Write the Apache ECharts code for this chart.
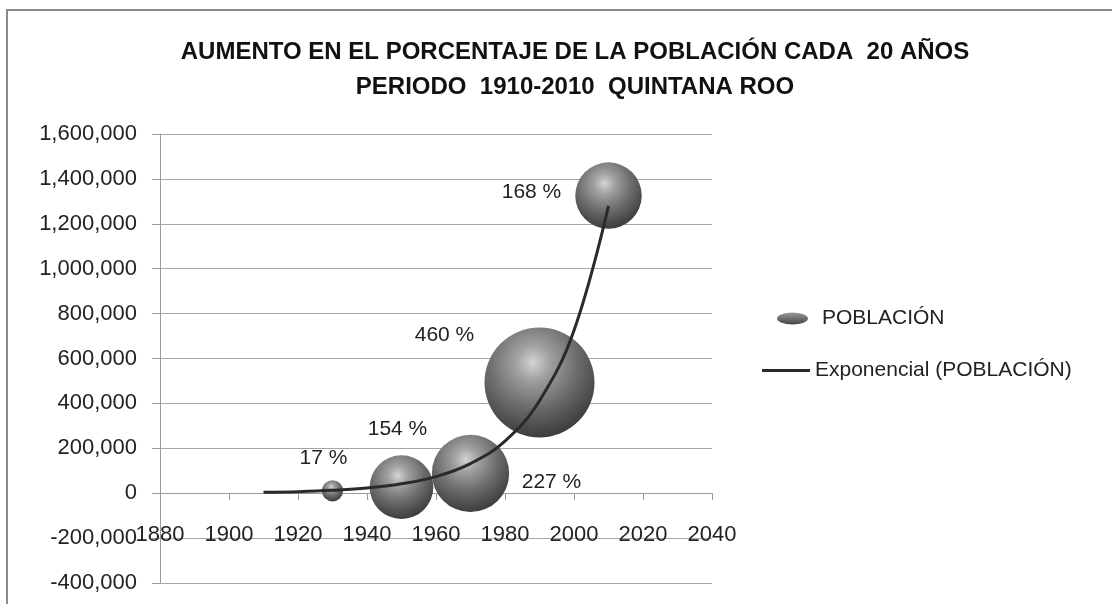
<!DOCTYPE html>
<html>
<head>
<meta charset="utf-8">
<script src="https://cdn.jsdelivr.net/npm/echarts@6/dist/echarts.min.js"></script>
<style>
  html, body { margin: 0; padding: 0; background: #ffffff; }
  #chart { width: 1112px; height: 604px; }
</style>
</head>
<body>
<div id="chart"></div>
<script>
// ---- Data ----
const years = [1930, 1950, 1970, 1990, 2010];
const population = [10620, 26967, 88150, 493277, 1325578];
const percentIncrease = [17, 154, 227, 460, 168];
const trendYears = [1910, 1920, 1930, 1940, 1950, 1960, 1970, 1980, 1990, 2000, 2010];
const trendValues = [4000, 7000, 13000, 23000, 42000, 74000, 132000, 232000, 412000, 725000, 1280000];
const titleLines = ['AUMENTO EN EL PORCENTAJE DE LA POBLACIÓN CADA  20 AÑOS', 'PERIODO  1910-2010  QUINTANA ROO'];
const seriesNames = ['POBLACIÓN', 'Exponencial (POBLACIÓN)'];

// ---- Presentation ----
const FONT = '"Liberation Sans", Arial, sans-serif';
const labelOffsets = [[-9, -33], [-4, -58], [81, 9], [-95, -47], [-77, -3]];
const maxPct = Math.max.apply(null, percentIncrease);

function sphere() {
  return new echarts.graphic.RadialGradient(0.44, 0.32, 0.72, [
    { offset: 0, color: '#d4d4d4' },
    { offset: 0.22, color: '#a0a0a0' },
    { offset: 0.55, color: '#6e6e6e' },
    { offset: 0.85, color: '#484848' },
    { offset: 1, color: '#383838' }
  ]);
}

const bubbleData = years.map((y, i) => ({
  value: [y, population[i], percentIncrease[i]],
  label: { offset: labelOffsets[i] }
}));
const trendData = trendYears.map((y, i) => [y, trendValues[i]]);

const chart = echarts.init(document.getElementById('chart'), null, { renderer: 'canvas' });
chart.setOption({
  animation: false,
  backgroundColor: '#ffffff',
  title: {
    text: titleLines.join('\n'),
    left: 575,
    top: 35,
    padding: 0,
    textAlign: 'center',
    textStyle: { fontFamily: FONT, fontSize: 24, fontWeight: 'bold', color: '#111', lineHeight: 35 }
  },
  graphic: [{
    type: 'rect',
    shape: { x: 7, y: 10, width: 1300, height: 800 },
    style: { fill: 'none', stroke: '#8a8a8a', lineWidth: 2 },
    silent: true
  }],
  legend: [{
    data: [{ name: seriesNames[0], icon: 'path://M0,6 A15.5,6 0 1,1 31,6 A15.5,6 0 1,1 0,6 Z',
             itemStyle: { color: new echarts.graphic.LinearGradient(0, 0, 0, 1, [
               { offset: 0, color: '#9a9a9a' }, { offset: 0.5, color: '#6e6e6e' }, { offset: 1, color: '#444' }]) } }],
    left: 777, top: 308, itemWidth: 31, itemHeight: 12, padding: 0,
    textStyle: { fontFamily: FONT, fontSize: 21, color: '#222', padding: [0, 0, 0, 9] }
  }, {
    data: [{ name: seriesNames[1], icon: 'rect' }],
    left: 762, top: 360, itemWidth: 48, itemHeight: 3, padding: 0,
    textStyle: { fontFamily: FONT, fontSize: 21, color: '#222' }
  }],
  grid: { left: 160, right: 400, top: 134, bottom: 21, containLabel: false, outerBoundsMode: 'none' },
  xAxis: {
    type: 'value', min: 1880, max: 2040, interval: 20,
    offset: -90,
    axisLine: { show: true, onZero: false, lineStyle: { color: '#9a9a9a', width: 1 } },
    axisTick: { show: true, inside: false, length: 7, lineStyle: { color: '#9a9a9a' } },
    axisLabel: { fontFamily: FONT, fontSize: 22, color: '#222', margin: 31,
      showMinLabel: true, showMaxLabel: true, formatter: v => String(v) },
    splitLine: { show: false }
  },
  yAxis: {
    type: 'value', min: -400000, max: 1600000, interval: 200000,
    axisLine: { show: true, onZero: false, lineStyle: { color: '#9a9a9a', width: 1 } },
    axisTick: { show: true, inside: false, length: 8, lineStyle: { color: '#9a9a9a' } },
    axisLabel: { fontFamily: FONT, fontSize: 22, color: '#222', margin: 23,
      formatter: v => v.toLocaleString('en-US') },
    splitLine: { show: true, lineStyle: { color: '#a6a6a6', width: 1 } }
  },
  series: [{
    name: seriesNames[0],
    type: 'scatter',
    data: bubbleData,
    symbolSize: v => 110 * Math.sqrt(v[2] / maxPct),
    itemStyle: { color: sphere(), opacity: 1 },
    label: {
      show: true, position: 'inside',
      fontFamily: FONT, fontSize: 21, color: '#222',
      formatter: p => p.value[2] + ' %'
    },
    emphasis: { disabled: true },
    z: 2
  }, {
    name: seriesNames[1],
    type: 'line',
    data: trendData,
    smooth: 0.4,
    showSymbol: false,
    symbol: 'none',
    lineStyle: { color: '#2a2a2a', width: 3 },
    itemStyle: { color: '#2a2a2a' },
    emphasis: { disabled: true },
    z: 3
  }]
});
</script>
</body>
</html>
